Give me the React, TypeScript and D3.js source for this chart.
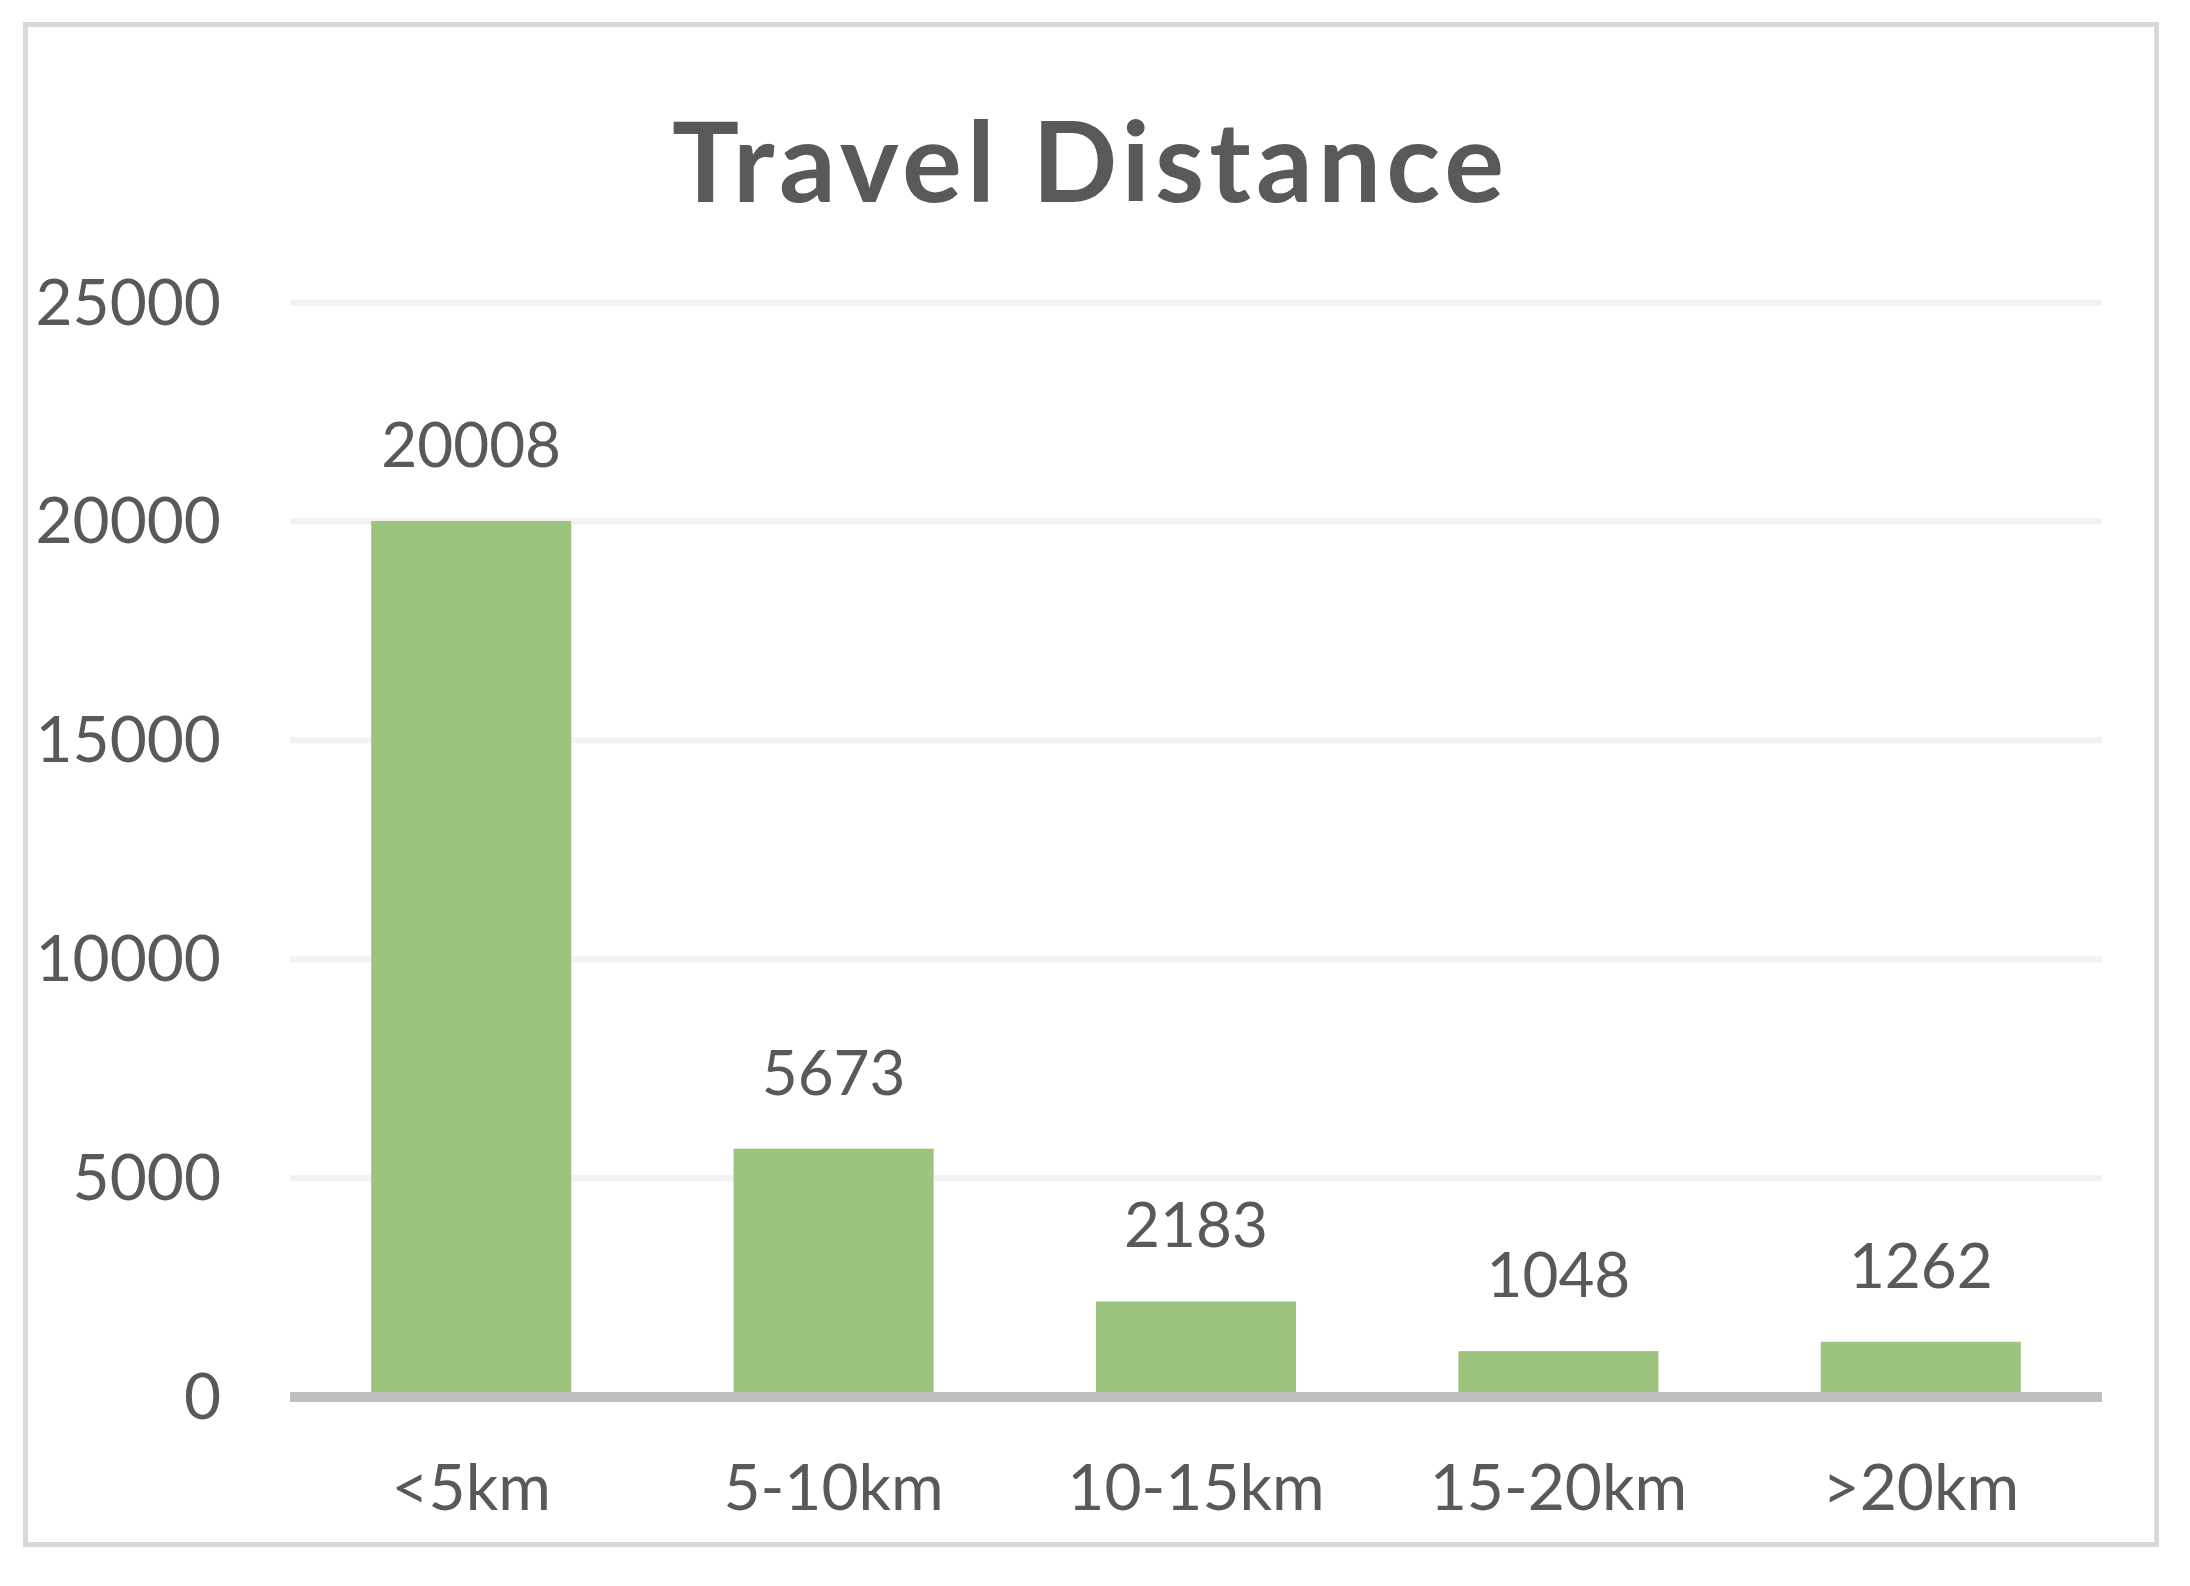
import React, { useEffect } from "react";
import * as d3 from "d3";

const categories = ["<5km", "5-10km", "10-15km", "15-20km", ">20km"];
const values = [20008, 5673, 2183, 1048, 1262];
const yTicks = [0, 5000, 10000, 15000, 20000, 25000];
const title = "Travel Distance";

const W = 2190;
const H = 1586;
const FONT = "Lato, 'Open Sans', sans-serif";
const TEXT = "#595959";

export default function App() {
  useEffect(() => {
    document.body.style.margin = "0";
  }, []);

  const x = d3.scaleBand<string>().domain(categories).range([290, 2102]).paddingInner(0.448).paddingOuter(0.224);
  const y = d3.scaleLinear().domain([0, 25000]).range([1397, 302.5]);

  return (
    <svg width={W} height={H} style={{ display: "block", background: "#fff" }}>
      <rect x={0} y={0} width={W} height={H} fill="#ffffff" />
      <rect x={25.5} y={24.5} width={2131} height={1520} fill="#ffffff" stroke="#d9d9d9" strokeWidth={5} />
      <text x={1088} y={202} textAnchor="middle" fontFamily={FONT} fontWeight={700} fontSize={112} fill={TEXT} textLength={832} lengthAdjust="spacing">
        {title}
      </text>
      {yTicks.filter((t) => t > 0).map((t) => (
        <line key={"g" + t} x1={290} x2={2102} y1={y(t)} y2={y(t)} stroke="#f2f2f2" strokeWidth={6} />
      ))}
      {yTicks.map((t) => (
        <text key={"t" + t} x={221} y={y(t) + 22} textAnchor="end" fontFamily={FONT} fontSize={64} fill={TEXT}>
          {t}
        </text>
      ))}
      {categories.map((c, i) => (
        <rect key={"b" + c} x={x(c)} y={y(values[i])} width={x.bandwidth()} height={y(0) - y(values[i]) - 5} fill="#9cc47e" />
      ))}
      <line x1={290} x2={2102} y1={y(0)} y2={y(0)} stroke="#bfbfbf" strokeWidth={10} />
      {categories.map((c, i) => (
        <text key={"v" + c} x={(x(c) as number) + x.bandwidth() / 2} y={y(values[i]) - 54} textAnchor="middle" fontFamily={FONT} fontSize={62} fill={TEXT}>
          {values[i]}
        </text>
      ))}
      {categories.map((c) => (
        <text key={"c" + c} x={(x(c) as number) + x.bandwidth() / 2} y={1510} textAnchor="middle" fontFamily={FONT} fontSize={64} fill={TEXT}>
          {c}
        </text>
      ))}
    </svg>
  );
}
